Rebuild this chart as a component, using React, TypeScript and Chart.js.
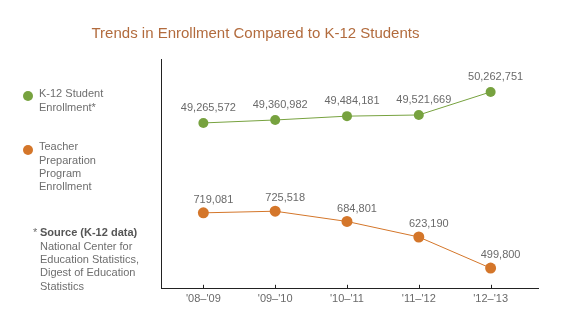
import React, { useEffect, useRef } from "react";
import { Chart, registerables } from "chart.js";

Chart.register(...registerables);

const categories = ["'08–'09", "'09–'10", "'10–'11", "'11–'12", "'12–'13"];
const k12Enrollment = [49265572, 49360982, 49484181, 49521669, 50262751];
const teacherPrepEnrollment = [719081, 725518, 684801, 623190, 499800];

const GREEN = "#77a23f";
const ORANGE = "#d4762a";
const FONT = '"Liberation Sans", Arial, Helvetica, sans-serif';
const LABEL_COLOR = "#6a6a6a";

export default function App() {
  const ref = useRef<HTMLCanvasElement>(null);

  useEffect(() => {
    if (!ref.current) return;

    const labelOffsets = [
      { dx: 5, dy: 15 },
      { dx: 10, dy: 13 },
    ];

    const pointLabels = {
      id: "pointLabels",
      afterDatasetsDraw(chart: any) {
        const ctx = chart.ctx;
        ctx.save();
        ctx.font = `11px ${FONT}`;
        ctx.fillStyle = LABEL_COLOR;
        ctx.textAlign = "center";
        ctx.textBaseline = "middle";
        chart.data.datasets.forEach((ds: any, d: number) => {
          const meta = chart.getDatasetMeta(d);
          meta.data.forEach((pt: any, i: number) => {
            const v = ds.data[i].y as number;
            ctx.fillText(
              v.toLocaleString("en-US"),
              pt.x + labelOffsets[d].dx,
              pt.y - labelOffsets[d].dy
            );
          });
        });
        ctx.restore();
      },
    };

    const innerTicks = {
      id: "innerTicks",
      afterDraw(chart: any) {
        const ctx = chart.ctx;
        const xs = chart.scales.x;
        const bottom = chart.chartArea.bottom;
        ctx.save();
        ctx.strokeStyle = "#222";
        ctx.lineWidth = 1;
        categories.forEach((_, i) => {
          const px = Math.round(xs.getPixelForValue(i)) + 0.5;
          ctx.beginPath();
          ctx.moveTo(px, bottom);
          ctx.lineTo(px, bottom - 4);
          ctx.stroke();
        });
        ctx.restore();
      },
    };

    const chart = new Chart(ref.current, {
      type: "line",
      data: {
        datasets: [
          {
            label: "K-12 Student Enrollment",
            data: k12Enrollment.map((v, i) => ({ x: i, y: v })),
            yAxisID: "yK12",
            borderColor: GREEN,
            backgroundColor: GREEN,
            pointBackgroundColor: GREEN,
            pointRadius: 5,
            pointBorderWidth: 0,
            borderWidth: 1,
            tension: 0,
          },
          {
            label: "Teacher Preparation Program Enrollment",
            data: teacherPrepEnrollment.map((v, i) => ({ x: i, y: v })),
            yAxisID: "yTeacher",
            borderColor: ORANGE,
            backgroundColor: ORANGE,
            pointBackgroundColor: ORANGE,
            pointRadius: 5.5,
            pointBorderWidth: 0,
            borderWidth: 1,
            tension: 0,
          },
        ],
      },
      options: {
        animation: false,
        responsive: false,
        devicePixelRatio: 1,
        layout: { padding: { left: 161, top: 59, right: 37, bottom: 16 } },
        plugins: {
          legend: { display: false },
          tooltip: { enabled: false },
          title: { display: false },
        },
        scales: {
          x: {
            type: "linear",
            min: -0.59,
            max: 4.66,
            afterBuildTicks: (s: any) => {
              s.ticks = categories.map((_, i) => ({ value: i }));
            },
            ticks: {
              callback: (v: any) => categories[v as number] ?? "",
              font: { size: 11, family: FONT },
              color: LABEL_COLOR,
              padding: 4,
              autoSkip: false,
              maxRotation: 0,
            },
            grid: { display: true, drawOnChartArea: false, drawTicks: false },
            border: { display: true, color: "#222", width: 1 },
          },
          yTeacher: {
            type: "linear",
            position: "left",
            min: 417700,
            max: 1329400,
            ticks: { display: false },
            grid: { display: true, drawOnChartArea: false, drawTicks: false },
            border: { display: true, color: "#222", width: 1 },
          },
          yK12: {
            type: "linear",
            position: "left",
            display: false,
            min: 43929000,
            max: 51323000,
          },
        },
      },
      plugins: [pointLabels, innerTicks],
    } as any);

    return () => chart.destroy();
  }, []);

  const legendText: React.CSSProperties = {
    position: "absolute",
    fontSize: 11,
    lineHeight: "13.33px",
    color: "#6e6e6e",
    whiteSpace: "nowrap",
  };
  const dot = (color: string, left: number, top: number): React.CSSProperties => ({
    position: "absolute",
    left,
    top,
    width: 10,
    height: 10,
    borderRadius: "50%",
    background: color,
  });

  return (
    <div
      style={{
        position: "absolute",
        left: 0,
        top: 0,
        width: 575,
        height: 326,
        background: "#fff",
        fontFamily: FONT,
      }}
    >
      <canvas
        ref={ref}
        width={575}
        height={326}
        style={{ position: "absolute", left: 0, top: 0, width: 575, height: 326 }}
      />
      <div
        style={{
          position: "absolute",
          left: 0,
          top: 23.5,
          width: 511,
          textAlign: "center",
          fontSize: 15,
          lineHeight: "18px",
          color: "#b26b3d",
          whiteSpace: "nowrap",
        }}
      >
        Trends in Enrollment Compared to K-12 Students
      </div>

      <div style={dot(GREEN, 23, 90.7)} />
      <div style={{ ...legendText, left: 39, top: 87.2 }}>
        K-12 Student
        <br />
        Enrollment*
      </div>

      <div style={dot(ORANGE, 23, 144.5)} />
      <div style={{ ...legendText, left: 39, top: 140.2 }}>
        Teacher
        <br />
        Preparation
        <br />
        Program
        <br />
        Enrollment
      </div>

      <div style={{ ...legendText, left: 33, top: 226.2 }}>*</div>
      <div style={{ ...legendText, left: 40, top: 226.2 }}>
        <b style={{ color: "#555" }}>Source (K-12 data)</b>
        <br />
        National Center for
        <br />
        Education Statistics,
        <br />
        Digest of Education
        <br />
        Statistics
      </div>
    </div>
  );
}
